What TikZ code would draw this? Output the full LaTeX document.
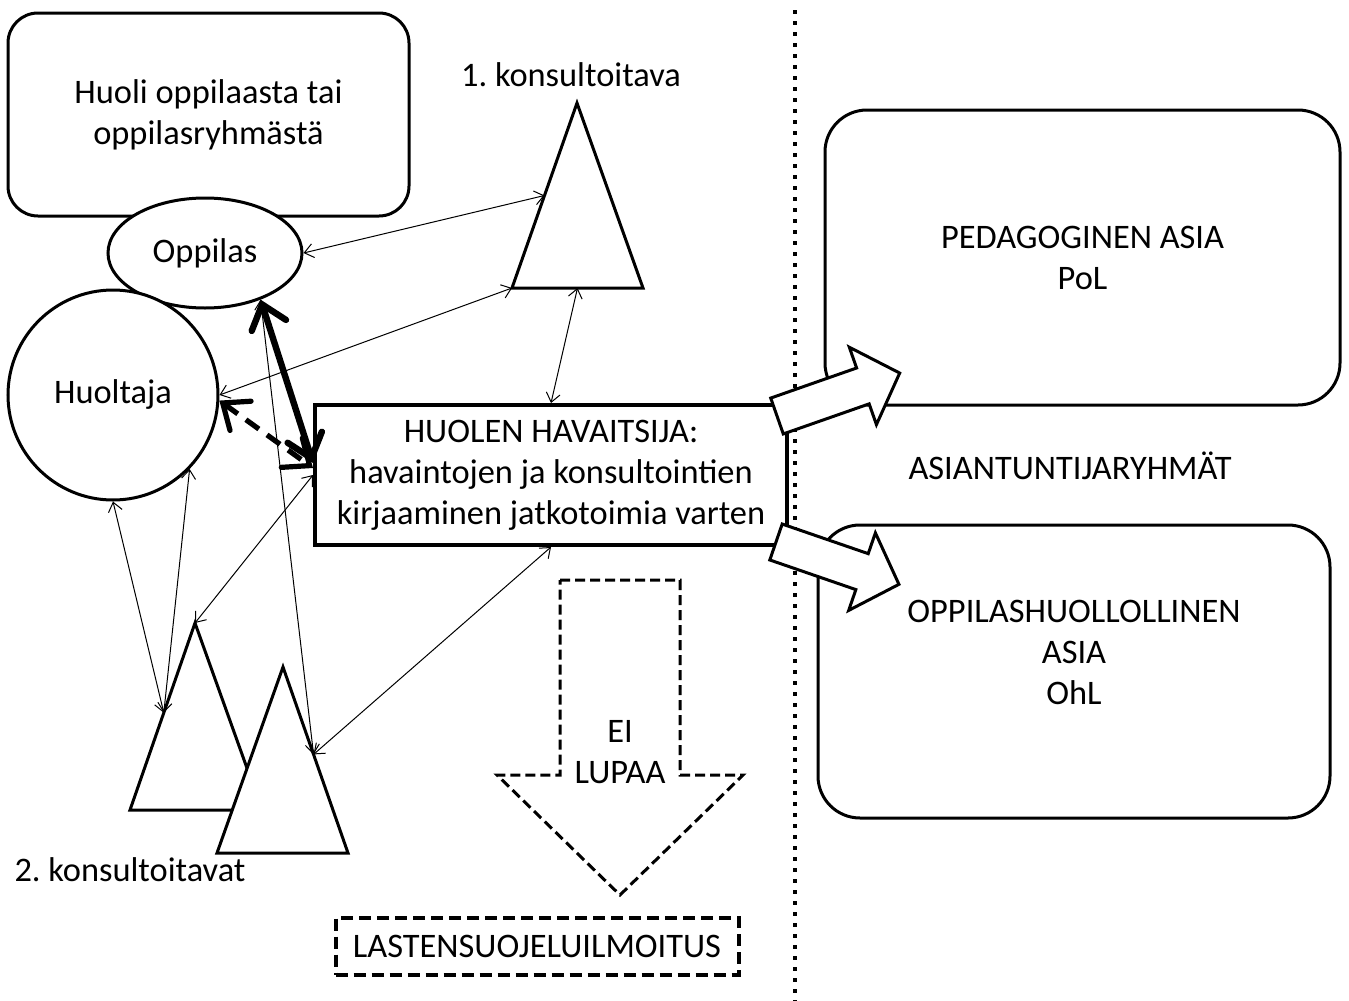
\documentclass[tikz,border=0pt]{standalone}
\usepackage{fontspec}
\setmainfont{Carlito}
\usepackage{tikz}
\usetikzlibrary{arrows.meta,calc,shapes.geometric}
\frenchspacing
\tikzstyle{worrybox}=[rectangle,rounded corners=15pt,line width=1.5pt,draw=black,fill=white,align=center]
\tikzstyle{groupbox}=[rectangle,rounded corners=21pt,line width=1.5pt,draw=black,fill=white,align=center]
\tikzstyle{person}=[ellipse,line width=1.5pt,draw=black,fill=white,inner sep=0pt]
\tikzstyle{observer}=[rectangle,line width=2pt,draw=black,fill=white,align=center]
\tikzstyle{notice}=[rectangle,line width=2pt,draw=black,dash pattern=on 6pt off 3pt]
\tikzstyle{tri}=[line width=1.5pt,draw=black,fill=white,line join=miter]
\tikzstyle{link}=[<->,line width=0.5pt]
\tikzstyle{strong}=[<->,line width=3.2pt,>={Straight Barb[length=11pt,width=18pt,line cap=round]}]
\tikzstyle{bigarrow}=[line width=1.5pt,draw=black,fill=white,line join=miter]
\tikzset{blockarrow/.pic={
  \draw[bigarrow] (0,-19) -- (91,-19) -- (91,-41) -- (130,0) -- (91,41) -- (91,19) -- (0,19) -- cycle;
}}

\begin{document}
\begin{tikzpicture}[x=0.5pt,y=-0.5pt,>={Straight Barb[length=4.5pt,width=7pt]},
                    font=\fontsize{17.2}{20.5}\selectfont]
    \useasboundingbox (0,0) rectangle (1349,1001);

    % dividing line
    \draw[line width=2pt,dash pattern=on 2.2pt off 3.3pt] (795,10) -- (795,1001);

    \node[worrybox,minimum width=200.5pt,minimum height=101.5pt] (worry) at (208.5,114.5) {Huoli oppilaasta tai\\oppilasryhmästä};
    \node[groupbox,minimum width=257.5pt,minimum height=147.5pt] (pol) at (1082.5,257.5) {PEDAGOGINEN ASIA\\PoL};
    \node[groupbox,minimum width=256pt,minimum height=146.5pt] (ohl) at (1074,671.5) {};
    \node[align=center] (ohltext) at (1074,652) {OPPILASHUOLLOLLINEN\\ASIA\\OhL};
    \node (experts) at (1070,466) {ASIANTUNTIJARYHMÄT};

    \node[observer,minimum width=236pt,minimum height=70pt] (observer) at (551,475)
        {HUOLEN HAVAITSIJA:\\havaintojen ja konsultointien\\kirjaaminen jatkotoimia varten};
    \pic[rotate=19.3] at ($(observer.north east)+(-12,13)$) {blockarrow};
    \pic[rotate=-19] at ($(observer.south east)+(-13,-5)$) {blockarrow};

    \node[person,minimum width=97pt,minimum height=55pt] (oppilas) at (205,253) {Oppilas};
    \node[person,minimum size=105pt] (huoltaja) at (113,395) {Huoltaja};

    % consultants
    \node (k1label) at (571,75) {1. konsultoitava};
    \node (k2label) at (130,870) {2. konsultoitavat};
    \draw[tri] (577,103) coordinate (k1top) -- (643,288) coordinate (k1right) -- (512,288) coordinate (k1left) -- cycle;
    \draw[tri] (195,623) coordinate (k2top) -- (262,810) coordinate (k2right) -- (130,810) coordinate (k2left) -- cycle;
    \draw[tri] (283,667) coordinate (k3top) -- (348,853) coordinate (k3right) -- (217,853) coordinate (k3left) -- cycle;

    % no permission
    \draw[line width=1.5pt,dash pattern=on 5pt off 2.5pt] (560,580) -- (680,580) -- (680,775) -- (743,775)
        -- (620,895) -- (497,775) -- (560,775) -- cycle;
    \node[align=center] (nopermit) at (620,752) {EI\\LUPAA};
    \node[notice,minimum width=201.5pt,minimum height=28.5pt] (report) at (537,946) {LASTENSUOJELUILMOITUS};

    \draw[link] (oppilas.east) -- ($(k1top)!0.5!(k1left)$);
    \draw[link] (huoltaja.east) -- (k1left);
    \draw[link] ($(k1left)!0.5!(k1right)$) -- (observer.north);
    \draw[link] (huoltaja.south) -- ($(k2top)!0.48!(k2left)$);
    \draw[link] (huoltaja.-44) -- ($(k2top)!0.48!(k2left)$);
    \draw[link] (observer.west) -- (k2top);
    \draw[link] (oppilas.-40) -- ($(k3top)!0.47!(k3right)$);
    \draw[link] (observer.south) -- ($(k3top)!0.47!(k3right)$);
    \draw[strong] (oppilas.-40) -- ($(observer.west)+(0,-12)$);
    \draw[strong,line width=2.6pt,dash pattern=on 8pt off 5pt] (huoltaja.-3) -- ($(observer.west)+(0,-7)$);
\end{tikzpicture}
\end{document}
